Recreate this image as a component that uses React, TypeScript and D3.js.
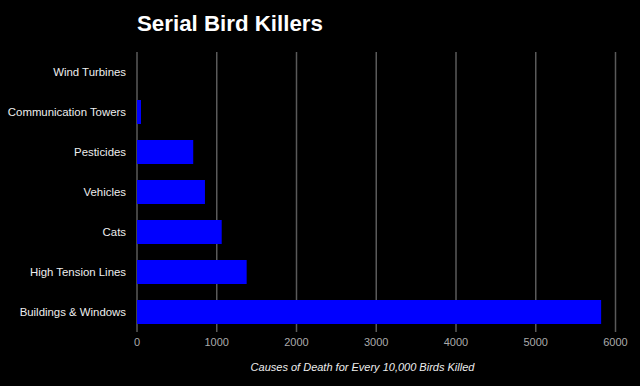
import React from 'react'
import * as d3 from 'd3'

const causes = [
  'Wind Turbines',
  'Communication Towers',
  'Pesticides',
  'Vehicles',
  'Cats',
  'High Tension Lines',
  'Buildings & Windows',
]
const deaths = [0, 50, 705, 852, 1062, 1375, 5820]
const xTicks = [0, 1000, 2000, 3000, 4000, 5000, 6000]

const width = 640
const height = 386
const margin = { left: 137, right: 24, top: 52, bottom: 54 }

export default function App() {
  const x = d3.scaleLinear()
    .domain([0, 6000])
    .range([margin.left, width - margin.right - 0.5])
  const y = d3.scaleBand()
    .domain(causes)
    .range([margin.top, height - margin.bottom])
    .paddingInner(0.4)
    .paddingOuter(0.2)

  const font = 'Arial, "Liberation Sans", sans-serif'

  return (
    <svg width={width} height={height}
      style={{ position: 'fixed', left: 0, top: 0, background: '#000', display: 'block' }}>
      <rect x={0} y={0} width={width} height={height} fill="#000" />
      <text x={137} y={30.5} fill="#fff" fontFamily={font} fontWeight="bold" fontSize={22.3}>
        Serial Bird Killers
      </text>
      {xTicks.map(t => (
        <g key={t}>
          <line x1={x(t)} x2={x(t)} y1={margin.top} y2={height - margin.bottom}
            stroke="#5a5a5a" strokeWidth={1.5} />
          <text x={x(t)} y={345.5} fill="#aaa" fontFamily={font} fontSize={11}
            textAnchor="middle">{t}</text>
        </g>
      ))}
      {causes.map((c, i) => (
        <g key={c}>
          <rect x={x(0)} y={y(c)} width={x(deaths[i]) - x(0)} height={y.bandwidth()}
            fill="#0000ff" />
          <text x={126} y={(y(c) as number) + y.bandwidth() / 2} dy="0.35em"
            fill="#eee" fontFamily={font} fontSize={11.4} textAnchor="end">{c}</text>
        </g>
      ))}
      <text x={362.5} y={371} fill="#eee" fontFamily={font} fontSize={11}
        fontStyle="italic" textAnchor="middle">
        Causes of Death for Every 10,000 Birds Killed
      </text>
    </svg>
  )
}
